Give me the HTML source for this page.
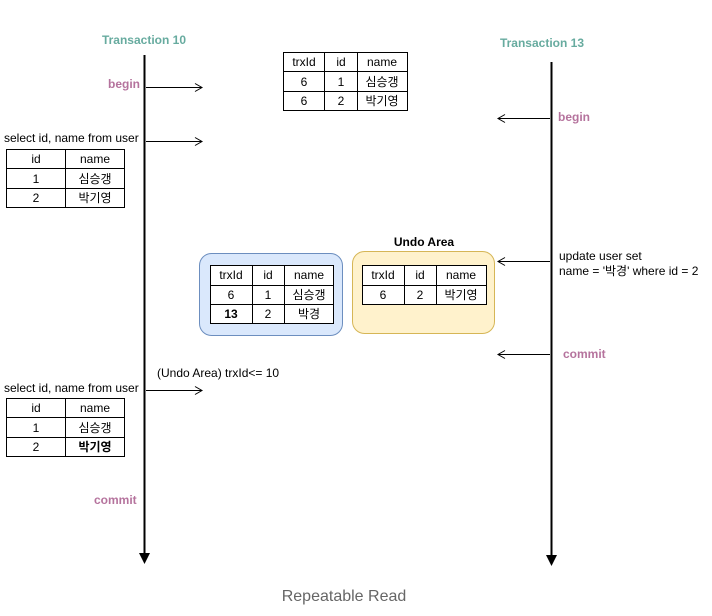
<!DOCTYPE html>
<html><head><meta charset="utf-8"><style>
html,body{margin:0;padding:0;background:#fff;}
svg{display:block;}
text{font-family:"Liberation Sans","Noto Sans CJK KR",sans-serif;font-size:12px;fill:#000;}
.c{text-anchor:middle;}
.t{fill:#67AB9F;font-weight:bold;font-size:12px;}
.p{fill:#B5739D;font-weight:bold;font-size:12px;}
.g{stroke:#000;stroke-width:1;fill:none;}
</style></head><body>
<svg width="712" height="616" viewBox="0 0 712 616" xmlns="http://www.w3.org/2000/svg">
<defs>
<marker id="op" markerWidth="10" markerHeight="10" refX="8" refY="5" orient="auto" markerUnits="userSpaceOnUse"><path d="M1,1 L8,5 L1,9" fill="none" stroke="#000" stroke-width="1"/></marker>
</defs>
<!-- lifelines -->
<line x1="144.5" y1="55" x2="144.5" y2="555" stroke="#000" stroke-width="2"/>
<path d="M139,553 L150,553 L144.5,564 Z" fill="#000"/>
<line x1="551.5" y1="62" x2="551.5" y2="556" stroke="#000" stroke-width="2"/>
<path d="M546,555 L557,555 L551.5,566 Z" fill="#000"/>
<text class="t c" x="144" y="44">Transaction 10</text>
<text class="t c" x="542" y="47">Transaction 13</text>
<!-- T10 arrows -->
<text class="p" x="108" y="88">begin</text>
<line x1="146" y1="87.5" x2="202" y2="87.5" stroke="#000" marker-end="url(#op)"/>
<text x="4" y="142">select id, name from user</text>
<line x1="146" y1="141.5" x2="202" y2="141.5" stroke="#000" marker-end="url(#op)"/>
<text x="157" y="377">(Undo Area) trxId&lt;= 10</text>
<line x1="146" y1="390.5" x2="202" y2="390.5" stroke="#000" marker-end="url(#op)"/>
<text x="4" y="392">select id, name from user</text>
<text class="p" x="94" y="504">commit</text>
<!-- T13 arrows -->
<text class="p" x="558" y="121">begin</text>
<line x1="550" y1="118.5" x2="498" y2="118.5" stroke="#000" marker-end="url(#op)"/>
<text x="559" y="260">update user set</text>
<text x="559" y="275">name = '박경' where id = 2</text>
<line x1="550" y1="261.5" x2="498" y2="261.5" stroke="#000" marker-end="url(#op)"/>
<text class="p" x="563" y="358">commit</text>
<line x1="550" y1="354.5" x2="498" y2="354.5" stroke="#000" marker-end="url(#op)"/>
<!-- table top -->
<rect class="g" x="283.5" y="52.5" width="124" height="58"/>
<line class="g" x1="324.5" y1="52" x2="324.5" y2="111"/><line class="g" x1="357.5" y1="52" x2="357.5" y2="111"/>
<line class="g" x1="283" y1="71.5" x2="408" y2="71.5"/><line class="g" x1="283" y1="91.5" x2="408" y2="91.5"/>
<text class="c" x="304" y="66">trxId</text><text class="c" x="341" y="66">id</text><text class="c" x="382" y="66">name</text>
<text class="c" x="304" y="86">6</text><text class="c" x="341" y="86">1</text><text class="c" x="382" y="86">심승갱</text>
<text class="c" x="304" y="105">6</text><text class="c" x="341" y="105">2</text><text class="c" x="382" y="105">박기영</text>
<!-- left table 1 -->
<rect class="g" x="6.5" y="149.5" width="118" height="58"/>
<line class="g" x1="65.5" y1="149" x2="65.5" y2="208"/>
<line class="g" x1="6" y1="168.5" x2="125" y2="168.5"/><line class="g" x1="6" y1="188.5" x2="125" y2="188.5"/>
<text class="c" x="36" y="163">id</text><text class="c" x="95" y="163">name</text>
<text class="c" x="36" y="183">1</text><text class="c" x="95" y="183">심승갱</text>
<text class="c" x="36" y="202">2</text><text class="c" x="95" y="202">박기영</text>
<!-- left table 2 -->
<rect class="g" x="6.5" y="398.5" width="118" height="58"/>
<line class="g" x1="65.5" y1="398" x2="65.5" y2="457"/>
<line class="g" x1="6" y1="417.5" x2="125" y2="417.5"/><line class="g" x1="6" y1="437.5" x2="125" y2="437.5"/>
<text class="c" x="36" y="412">id</text><text class="c" x="95" y="412">name</text>
<text class="c" x="36" y="432">1</text><text class="c" x="95" y="432">심승갱</text>
<text class="c" x="36" y="451">2</text><text class="c" x="95" y="451" font-weight="bold">박기영</text>
<!-- blue box -->
<rect x="199.5" y="253.5" width="143" height="82" rx="12" fill="#DAE8FC" stroke="#6C8EBF"/>
<rect x="210.5" y="265.5" width="123" height="58" fill="#fff" stroke="#000"/>
<line class="g" x1="252.5" y1="265" x2="252.5" y2="324"/><line class="g" x1="284.5" y1="265" x2="284.5" y2="324"/>
<line class="g" x1="210" y1="285.5" x2="334" y2="285.5"/><line class="g" x1="210" y1="304.5" x2="334" y2="304.5"/>
<text class="c" x="231" y="279">trxId</text><text class="c" x="268" y="279">id</text><text class="c" x="309" y="279">name</text>
<text class="c" x="231" y="299">6</text><text class="c" x="268" y="299">1</text><text class="c" x="309" y="299">심승갱</text>
<text class="c" x="231" y="318" font-weight="bold">13</text><text class="c" x="268" y="318">2</text><text class="c" x="309" y="318">박경</text>
<!-- yellow box -->
<text class="c" x="424" y="246" font-weight="bold">Undo Area</text>
<rect x="352.5" y="251.5" width="142" height="82" rx="12" fill="#FFF2CC" stroke="#D6B656"/>
<rect x="362.5" y="265.5" width="124" height="39" fill="#fff" stroke="#000"/>
<line class="g" x1="404.5" y1="265" x2="404.5" y2="305"/><line class="g" x1="436.5" y1="265" x2="436.5" y2="305"/>
<line class="g" x1="362" y1="285.5" x2="487" y2="285.5"/>
<text class="c" x="383" y="279">trxId</text><text class="c" x="420" y="279">id</text><text class="c" x="461" y="279">name</text>
<text class="c" x="383" y="299">6</text><text class="c" x="420" y="299">2</text><text class="c" x="461" y="299">박기영</text>
<!-- caption -->
<text class="c" x="344" y="601" style="font-size:16px;fill:#666;">Repeatable Read</text>
</svg>
</body></html>
